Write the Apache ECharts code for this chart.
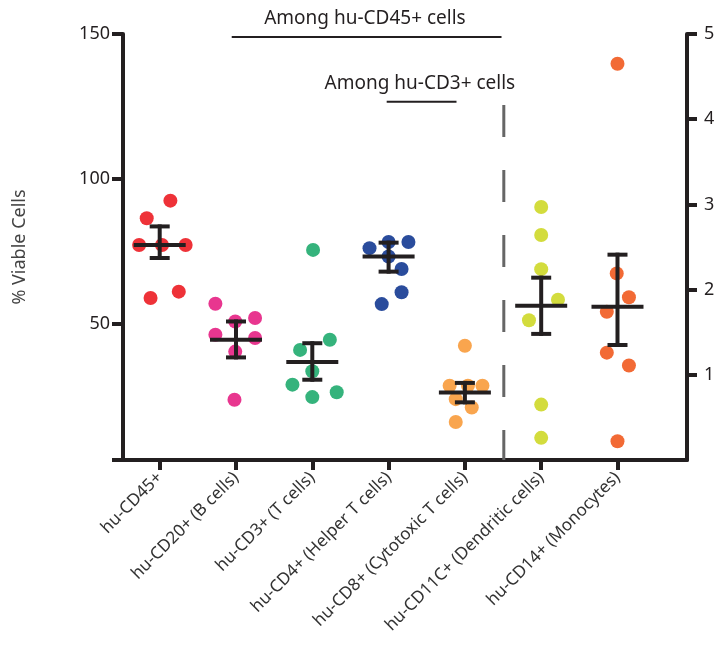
<!DOCTYPE html>
<html><head><meta charset="utf-8">
<script src="https://cdn.jsdelivr.net/npm/echarts@6/dist/echarts.min.js"></script>
<style>html,body{margin:0;padding:0;background:#fff}#c{width:722px;height:653px}</style>
</head><body><div id="c"></div>
<script>
// ---- data ----
const categories = ['hu-CD45+', 'hu-CD20+ (B cells)', 'hu-CD3+ (T cells)', 'hu-CD4+ (Helper T cells)',
  'hu-CD8+ (Cytotoxic T cells)', 'hu-CD11C+ (Dendritic cells)', 'hu-CD14+ (Monocytes)'];
const groupColors = ['#ee3238', '#e8368f', '#35b37c', '#2a4c9c', '#f9a54e', '#d3dc3d', '#f26a35'];
const groupAxis = [0, 0, 0, 0, 0, 1, 1]; // 0 = left (% viable), 1 = right axis

// per-point horizontal jitter (category units) and values
const cd45Jitter = [0.14, -0.17, -0.27, 0.03, 0.34, -0.12, 0.25];
const cd45Values = [92.5, 86.4, 77.2, 77.2, 77.2, 58.9, 61.1];
const cd20Jitter = [-0.27, -0.01, 0.25, -0.27, 0.25, -0.01, -0.02];
const cd20Values = [56.9, 50.8, 52.0, 46.2, 45.1, 40.4, 23.8];
const cd3Jitter = [0.01, 0.23, -0.16, 0.0, -0.26, 0.32, 0.0];
const cd3Values = [75.5, 44.5, 41.0, 33.6, 29.0, 26.4, 24.7];
const cd4Jitter = [-0.25, 0.0, 0.26, 0.0, 0.17, 0.17, -0.09];
const cd4Values = [76.1, 78.2, 78.2, 73.2, 68.9, 60.9, 56.8];
const cd8Jitter = [0.0, -0.2, 0.04, 0.23, -0.12, 0.09, -0.12];
const cd8Values = [42.4, 28.6, 28.6, 28.6, 24.0, 21.1, 16.1];
const cd11cJitter = [0.0, 0.0, 0.0, 0.22, -0.16, 0.0, 0.0];
const cd11cValues = [2.97, 2.64, 2.24, 1.88, 1.64, 0.65, 0.26];
const cd14Jitter = [0.0, -0.01, 0.15, -0.14, -0.14, 0.15, 0.0];
const cd14Values = [4.65, 2.19, 1.91, 1.74, 1.26, 1.11, 0.22];

const groupJitter = [cd45Jitter, cd20Jitter, cd3Jitter, cd4Jitter, cd8Jitter, cd11cJitter, cd14Jitter];
const groupValues = [cd45Values, cd20Values, cd3Values, cd4Values, cd8Values, cd11cValues, cd14Values];

// mean and SEM bounds
const means   = [77.2, 44.5, 36.8, 73.2, 26.3, 1.81, 1.80];
const semHigh = [83.6, 50.8, 43.3, 78.0, 29.6, 2.14, 2.41];
const semLow  = [72.7, 38.4, 30.7, 68.0, 22.9, 1.48, 1.35];

const leftTickLabels = [50, 100, 150];
const rightTickLabels = [1, 2, 3, 4, 5];

// annotations
const bracketStarts = [0.944, 2.975];
const bracketEnds = [4.48, 3.89];
const bracketLevels = [149, 126.6];
const bracketLabels = ['Among hu-CD45+ cells', 'Among hu-CD3+ cells'];
const bracketLabelCenters = [2.69, 3.41];
const dividerX = 4.51, dividerTop = 125.5, dividerBottom = 3;

// ---- chart ----
const FONT = '"Noto Sans", "DejaVu Sans", sans-serif';
const INK = '#231f20';
const chart = echarts.init(document.getElementById('c'));

const scatterSeries = groupValues.map((vals, g) => ({
  type: 'scatter',
  yAxisIndex: groupAxis[g],
  symbolSize: 14,
  itemStyle: { color: groupColors[g], opacity: 1 },
  data: vals.map((v, i) => [g + groupJitter[g][i], v]),
  silent: true,
  z: 2
}));

function errorBar(params, api) {
  const x = api.value(0);
  const pm = api.coord([x, api.value(1)]);
  const pl = api.coord([x, api.value(2)]);
  const ph = api.coord([x, api.value(3)]);
  const style = { stroke: INK, lineWidth: 4 };
  return { type: 'group', children: [
    { type: 'line', shape: { x1: pm[0] - 26, y1: pm[1], x2: pm[0] + 26, y2: pm[1] }, style },
    { type: 'line', shape: { x1: pl[0], y1: pl[1] + 2, x2: ph[0], y2: ph[1] - 2 }, style },
    { type: 'line', shape: { x1: ph[0] - 10, y1: ph[1], x2: ph[0] + 10, y2: ph[1] }, style },
    { type: 'line', shape: { x1: pl[0] - 10, y1: pl[1], x2: pl[0] + 10, y2: pl[1] }, style }
  ]};
}

const leftBars = [], rightBars = [];
means.forEach((m, g) => {
  const item = [g, m, semLow[g], semHigh[g]];
  (groupAxis[g] === 0 ? leftBars : rightBars).push(item);
});

const errorSeries = [
  { type: 'custom', yAxisIndex: 0, renderItem: errorBar, data: leftBars, z: 5, silent: true },
  { type: 'custom', yAxisIndex: 1, renderItem: errorBar, data: rightBars, z: 5, silent: true }
];

const annotationSeries = {
  type: 'custom', yAxisIndex: 0, silent: true, z: 6, clip: false,
  data: bracketLabels.map((t, i) => [bracketStarts[i], bracketEnds[i], bracketLevels[i], bracketLabelCenters[i]]),
  renderItem(params, api) {
    const i = params.dataIndex;
    const p1 = api.coord([api.value(0), api.value(2)]);
    const p2 = api.coord([api.value(1), api.value(2)]);
    const pc = api.coord([api.value(3), api.value(2)]);
    return { type: 'group', children: [
      { type: 'line', shape: { x1: p1[0], y1: p1[1], x2: p2[0], y2: p2[1] }, style: { stroke: INK, lineWidth: 2 } },
      { type: 'text', x: pc[0], y: p1[1] - 9,
        style: { text: bracketLabels[i], fill: INK, font: '19px ' + FONT,
          align: 'center', verticalAlign: 'bottom', textAlign: 'center', textVerticalAlign: 'bottom' } }
    ]};
  }
};

const dividerSeries = {
  type: 'custom', yAxisIndex: 0, silent: true, z: 1, clip: false,
  data: [[dividerX, dividerTop, dividerBottom]],
  renderItem(params, api) {
    const pt = api.coord([api.value(0), api.value(1)]);
    const pb = api.coord([api.value(0), api.value(2)]);
    return { type: 'line', shape: { x1: pt[0], y1: pt[1], x2: pb[0], y2: pb[1] },
      style: { stroke: '#666', lineWidth: 3, lineDash: [32, 33] } };
  }
};

chart.setOption({
  animation: false,
  backgroundColor: '#fff',
  grid: { left: 123, right: 35, top: 34, bottom: 193, containLabel: false },
  xAxis: {
    type: 'value', min: -0.481, max: 6.911,
    axisLine: { show: true, onZero: false, lineStyle: { color: INK, width: 4 } },
    axisTick: { show: true, customValues: categories.map((c, i) => i), length: 10,
      lineStyle: { color: INK, width: 4 } },
    axisLabel: { customValues: categories.map((c, i) => i), formatter: v => categories[Math.round(v)] || '',
      rotate: 45, fontSize: 17, color: '#333', margin: 15, fontFamily: FONT },
    splitLine: { show: false }
  },
  yAxis: [
    {
      type: 'value', min: 3, max: 150, position: 'left',
      name: '% Viable Cells', nameLocation: 'middle', nameGap: 94, nameRotate: 90,
      nameTextStyle: { fontSize: 18, color: '#444', fontFamily: FONT },
      axisLine: { show: true, onZero: false, lineStyle: { color: INK, width: 4 } },
      axisTick: { show: true, customValues: [3].concat(leftTickLabels), length: 11,
        lineStyle: { color: INK, width: 4 } },
      axisLabel: { customValues: leftTickLabels, fontSize: 18, color: INK, margin: 13, fontFamily: FONT },
      splitLine: { show: false }
    },
    {
      type: 'value', min: 0, max: 5, position: 'right',
      axisLine: { show: true, onZero: false, lineStyle: { color: INK, width: 4 } },
      axisTick: { show: true, customValues: rightTickLabels, length: 10,
        lineStyle: { color: INK, width: 4 } },
      axisLabel: { customValues: rightTickLabels, fontSize: 18, color: INK, margin: 17, fontFamily: FONT },
      splitLine: { show: false }
    }
  ],
  series: [dividerSeries].concat(scatterSeries, errorSeries, [annotationSeries])
});
</script>
</body></html>
